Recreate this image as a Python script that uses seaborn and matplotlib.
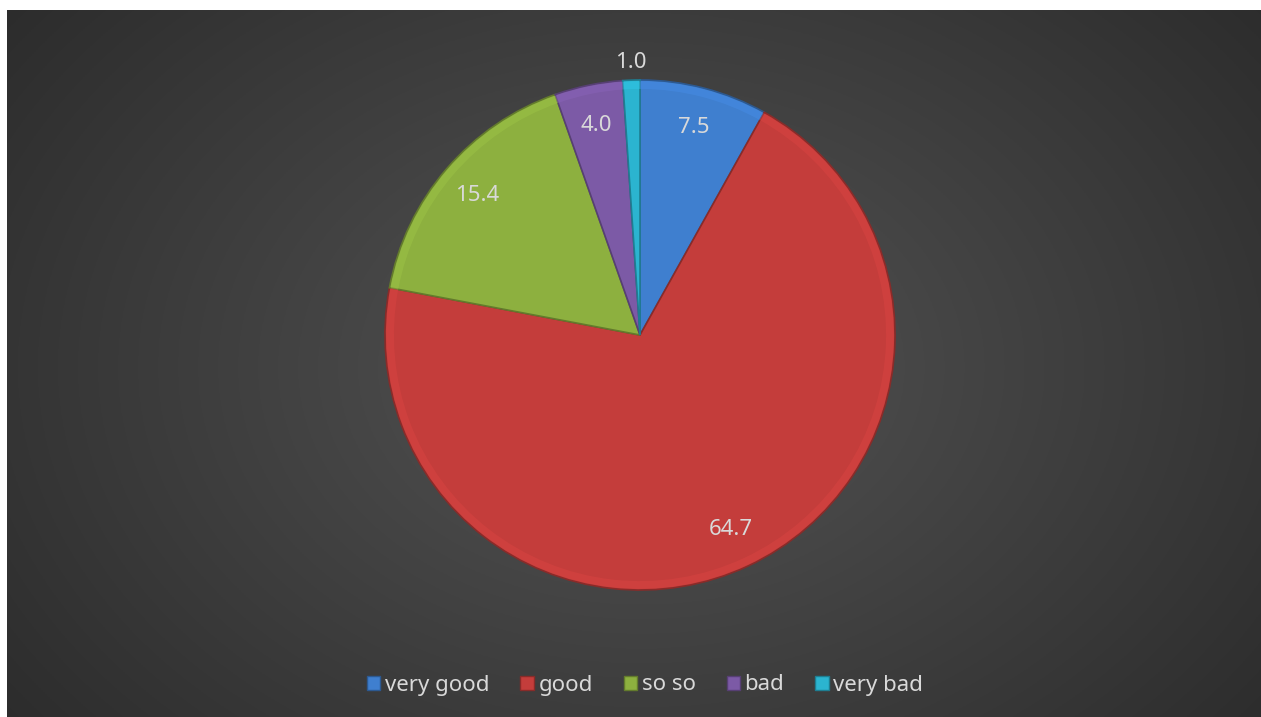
import matplotlib
matplotlib.use("Agg")
import matplotlib.pyplot as plt
import matplotlib.patches as mpatches
import numpy as np
import seaborn as sns

# data
categories = ["very good", "good", "so so", "bad", "very bad"]
values = [7.5, 64.7, 15.4, 4.0, 1.0]
slice_colors = ["#3f7fcf", "#c43d3b", "#8db03f", "#7c5aa6", "#2bb4d0"]

sns.set_theme(style="dark")
plt.rcParams["font.family"] = ["Noto Sans", "DejaVu Sans"]

W, H = 1261, 717
fig = plt.figure(figsize=(W / 100, H / 100), dpi=100)
fig.patch.set_facecolor("#2a2a2a")

# dark radial background, slightly oversized so no edge gaps show
bg = fig.add_axes([7 / W, -0.01, (W - 7) / W + 0.01, (H - 10) / H + 0.01])
yy, xx = np.mgrid[0:400, 0:700]
cx, cy = 350, 200
d = np.sqrt(((xx - cx) / 350) ** 2 + ((yy - cy) / 260) ** 2)
d = np.clip(d / 1.45, 0, 1)
lum = 0.33 - 0.18 * d
bg.imshow(np.dstack([lum, lum, lum]), aspect="auto", extent=[0, 1, 0, 1])
bg.set_axis_off()

# white margin on top and left, as in the screenshot
fig.patches.append(mpatches.Rectangle((0, 1 - 10 / H), 1, 10 / H, transform=fig.transFigure,
                                      facecolor="white", edgecolor="none", zorder=5))
fig.patches.append(mpatches.Rectangle((0, 0), 7 / W, 1, transform=fig.transFigure,
                                      facecolor="white", edgecolor="none", zorder=5))

# pie in a square axes
r_px = 255
pcx, pcy = 640, 335
ax = fig.add_axes([(pcx - r_px) / W, (H - pcy - r_px) / H, 2 * r_px / W, 2 * r_px / H])
ax.set_axis_off()

edge = [tuple(np.array(matplotlib.colors.to_rgb(c)) * 0.7) for c in slice_colors]
wedges, _ = ax.pie(values, colors=slice_colors, startangle=90, counterclock=False,
                   radius=1.0, wedgeprops=dict(linewidth=1.2))
for w, ec in zip(wedges, edge):
    w.set_edgecolor(ec)

# lighter rim to mimic the bevel
for w, c in zip(wedges, slice_colors):
    light = tuple(np.minimum(np.array(matplotlib.colors.to_rgb(c)) * 1.12, 1))
    ax.add_patch(mpatches.Wedge((0, 0), 0.995, w.theta1, w.theta2, width=0.03,
                                facecolor=light, edgecolor="none", alpha=0.45))

ax.set_xlim(-1, 1)
ax.set_ylim(-1, 1)

# data labels
for w, v in zip(wedges, values):
    mid = np.deg2rad((w.theta1 + w.theta2) / 2)
    dist = 1.07 if v < 2 else 0.84
    ax.text(dist * np.cos(mid), dist * np.sin(mid), f"{v:.1f}", ha="center", va="center",
            color="#d9d9d9", fontsize=16, clip_on=False)

handles = [mpatches.Patch(facecolor=c, edgecolor=ec, linewidth=1) for c, ec in zip(slice_colors, edge)]
leg = fig.legend(handles, categories, loc="center", bbox_to_anchor=(645 / W, 1 - 685 / H),
                 ncol=5, frameon=False, fontsize=16, handlelength=0.6, handleheight=0.6,
                 handletextpad=0.2, columnspacing=1.4, labelcolor="#d9d9d9")

fig.savefig("out.png", dpi=100, facecolor=fig.get_facecolor())
